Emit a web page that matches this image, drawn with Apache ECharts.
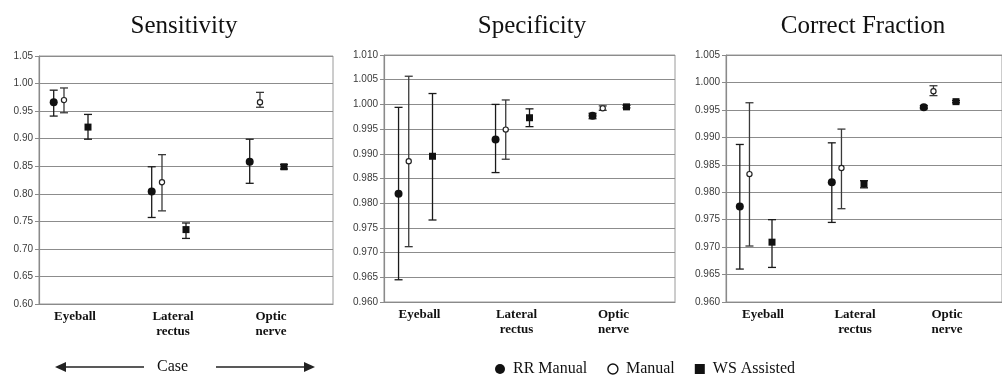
<!DOCTYPE html>
<html>
<head>
<meta charset="utf-8">
<script src="https://cdn.jsdelivr.net/npm/echarts@6/dist/echarts.min.js"></script>
<style>
html,body{margin:0;padding:0;background:#fff;}
#chart{width:1002px;height:376px;}
</style>
</head>
<body>
<div id="chart"></div>
<script>
// ---- Data (value, lower, upper) ----
const categories = ['Eyeball', 'Lateral\nrectus', 'Optic\nnerve'];
const panelTitles = ['Sensitivity', 'Specificity', 'Correct Fraction'];
const seriesNames = ['RR Manual', 'Manual', 'WS Assisted'];

const sensRR     = [[0.966, 0.941, 0.988], [0.804, 0.757, 0.849], [0.858, 0.819, 0.899]];
const sensManual = [[0.970, 0.947, 0.992], [0.821, 0.769, 0.871], [0.966, 0.957, 0.984]];
const sensWS     = [[0.921, 0.899, 0.944], [0.735, 0.719, 0.747], [0.849, 0.845, 0.853]];

const specRR     = [[0.9819, 0.9645, 0.9994], [0.9929, 0.9862, 1.0000], [0.9977, 0.9971, 0.9982]];
const specManual = [[0.9885, 0.9712, 1.0057], [0.9949, 0.9889, 1.0009], [0.9992, 0.9988, 0.9997]];
const specWS     = [[0.9895, 0.9766, 1.0022], [0.9973, 0.9955, 0.9991], [0.9995, 0.9993, 0.9998]];

const cfRR       = [[0.9774, 0.9660, 0.9887], [0.9818, 0.9745, 0.9890], [0.9955, 0.9952, 0.9958]];
const cfManual   = [[0.9833, 0.9702, 0.9963], [0.9844, 0.9770, 0.9915], [0.9984, 0.9976, 0.9994]];
const cfWS       = [[0.9709, 0.9663, 0.9750], [0.9815, 0.9808, 0.9821], [0.9965, 0.9963, 0.9967]];

const yMin = [0.60, 0.960, 0.960];
const yMax = [1.05, 1.010, 1.005];
const yStep = [0.05, 0.005, 0.005];
const yDecimals = [2, 3, 3];

const panelData = [
  [sensRR, sensManual, sensWS],
  [specRR, specManual, specWS],
  [cfRR, cfManual, cfWS]
];

// ---- Layout / style ----
const grids = [
  {left: 39, top: 56, width: 294, height: 248},
  {left: 384, top: 55, width: 291, height: 247},
  {left: 726, top: 55, width: 292, height: 247}
];
const titleX = [179, 527, 858];
const bandOffset = [-0.35, -0.245, 0];   // position within category band per series
const barColor = ['#1a1a1a', '#3a3a3a', '#1a1a1a'];
const serif = 'Liberation Serif, "Times New Roman", serif';
const sans = 'Liberation Sans, Arial, sans-serif';

function makeRender(sIdx) {
  return function (params, api) {
    const cat = api.value(0);
    const c = api.coord([cat, api.value(1)]);
    const lo = api.coord([cat, api.value(2)]);
    const hi = api.coord([cat, api.value(3)]);
    const band = api.size([1, 0])[0];
    const x = c[0] + band * bandOffset[sIdx];
    const cap = 4;
    const ls = {stroke: barColor[sIdx], lineWidth: 1.3};
    const children = [
      {type: 'line', shape: {x1: x, y1: lo[1], x2: x, y2: hi[1]}, style: ls},
      {type: 'line', shape: {x1: x - cap, y1: lo[1], x2: x + cap, y2: lo[1]}, style: ls},
      {type: 'line', shape: {x1: x - cap, y1: hi[1], x2: x + cap, y2: hi[1]}, style: ls}
    ];
    if (sIdx === 0) {
      children.push({type: 'circle', shape: {cx: x, cy: c[1], r: 4}, style: {fill: '#111'}});
    } else if (sIdx === 1) {
      children.push({type: 'circle', shape: {cx: x, cy: c[1], r: 2.6}, style: {fill: '#fff', stroke: '#222', lineWidth: 1.2}});
    } else {
      children.push({type: 'rect', shape: {x: x - 3.5, y: c[1] - 3.5, width: 7, height: 7}, style: {fill: '#111'}});
    }
    return {type: 'group', children: children};
  };
}

const option = {
  animation: false,
  backgroundColor: '#fff',
  title: panelTitles.map((t, i) => ({
    text: t, left: titleX[i], top: 9, textAlign: 'center',
    textStyle: {fontFamily: serif, fontSize: 25, fontWeight: 'normal', color: '#111'}
  })),
  legend: {
    left: 490, top: 356, itemGap: 20, itemWidth: 10, itemHeight: 10,
    textStyle: {fontFamily: serif, fontSize: 16, color: '#111', padding: [0, 0, 0, 3]},
    data: [
      {name: 'RR Manual', icon: 'circle', itemStyle: {color: '#111'}},
      {name: 'Manual', icon: 'circle', itemStyle: {color: '#fff', borderColor: '#111', borderWidth: 1.4}},
      {name: 'WS Assisted', icon: 'rect', itemStyle: {color: '#111'}}
    ],
    selectedMode: false
  },
  grid: grids.map(g => Object.assign({show: true, borderColor: '#9a9a9a', borderWidth: 1, backgroundColor: 'transparent'}, g)),
  xAxis: grids.map((g, i) => ({
    type: 'category', gridIndex: i, data: categories, boundaryGap: true,
    axisLine: {lineStyle: {color: '#8a8a8a', width: 1.2}},
    axisTick: {show: false},
    axisLabel: {
      fontFamily: serif, fontWeight: 'bold', fontSize: 13, color: '#111',
      lineHeight: 15, margin: 5, padding: [0, i === 2 ? 18 : 26, 0, 0], interval: 0
    }
  })),
  yAxis: grids.map((g, i) => ({
    type: 'value', gridIndex: i, min: yMin[i], max: yMax[i], interval: yStep[i],
    axisLine: {show: true, lineStyle: {color: '#8a8a8a', width: 1.2}},
    axisTick: {show: true, length: 4, lineStyle: {color: '#8a8a8a'}},
    splitLine: {lineStyle: {color: '#8c8c8c', width: 1}},
    axisLabel: {
      fontFamily: sans, fontSize: 10, color: '#3a3a3a', margin: 6,
      formatter: v => v.toFixed(yDecimals[i])
    }
  })),
  series: [],
  graphic: [
    {type: 'polyline', shape: {points: [[64, 367], [144, 367]]}, style: {stroke: '#222', lineWidth: 1.5}},
    {type: 'polygon', shape: {points: [[55, 367], [66, 362], [66, 372]]}, style: {fill: '#222'}},
    {type: 'polyline', shape: {points: [[216, 367], [306, 367]]}, style: {stroke: '#222', lineWidth: 1.5}},
    {type: 'polygon', shape: {points: [[315, 367], [304, 362], [304, 372]]}, style: {fill: '#222'}},
    {type: 'text', left: 157, top: 359, style: {text: 'Case', font: '16px ' + serif, fill: '#111'}}
  ]
};

panelData.forEach((sets, p) => {
  sets.forEach((arr, s) => {
    option.series.push({
      name: seriesNames[s],
      type: 'custom',
      xAxisIndex: p, yAxisIndex: p,
      itemStyle: {color: '#111'},
      renderItem: makeRender(s),
      encode: {x: 0, y: [1, 2, 3]},
      data: arr.map((d, k) => [k, d[0], d[1], d[2]]),
      clip: false
    });
  });
});

const chart = echarts.init(document.getElementById('chart'), null, {renderer: 'canvas'});
chart.setOption(option);
</script>
</body>
</html>
